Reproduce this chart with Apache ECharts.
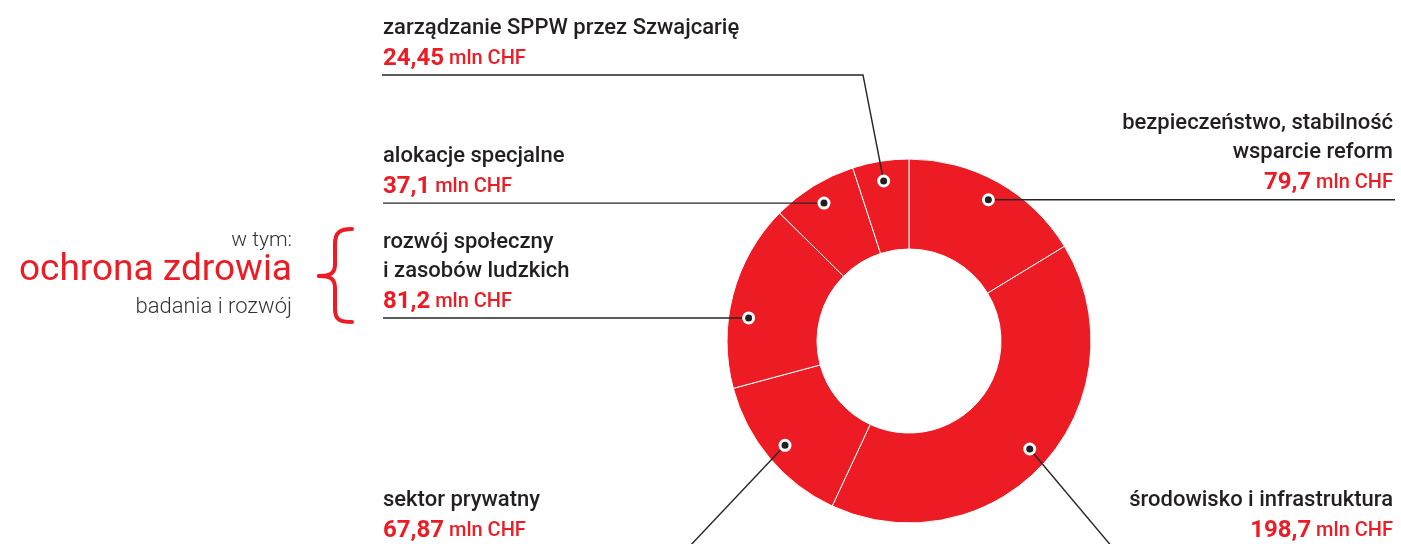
<!DOCTYPE html>
<html>
<head>
<meta charset="utf-8">
<script src="https://cdn.jsdelivr.net/npm/echarts@6/dist/echarts.min.js"></script>
<style>
  html, body { margin: 0; padding: 0; background: #fff; }
  #ChartDom { width: 1401px; height: 544px; }
</style>
</head>
<body>
<div id="ChartDom"></div>
<script>
// slices, clockwise from 12 o'clock
const categories = [
  "bezpieczeństwo, stabilność\nwsparcie reform",
  "środowisko i infrastruktura",
  "sektor prywatny",
  "rozwój społeczny\ni zasobów ludzkich",
  "alokacje specjalne",
  "zarządzanie SPPW przez Szwajcarię",
]
const values = [79.7, 198.7, 67.87, 81.2, 37.1, 24.45]
const unit = "mln CHF"
const sideNote = ["w tym:", "ochrona zdrowia", "badania i rozwój"]

const RED = "#ED1C24"
const INK = "#231F20"
const FONT = "Roboto"
const CX = 909, CY = 341, R_IN = 92, R_OUT = 182, DOT_R = 162

// where each label sits and how its leader runs (same order as categories)
const labelPos = [
  { x: 1393, y: 199, align: "right", va: "bottom", to: [[1395, "dot"]] },
  { x: 1393, y: 486, align: "right", va: "top", to: [[1113, 548]] },
  { x: 383, y: 486, align: "left", va: "top", to: [[688, 548]] },
  { x: 383, y: 318, align: "left", va: "bottom", to: [[383, "dot"]], shift: -9 },
  { x: 383, y: 203, align: "left", va: "bottom", to: [[383, "dot"]] },
  { x: 383, y: 75, align: "left", va: "bottom", to: [[863, 75], [382, 75]] },
]

const total = values.reduce((a, b) => a + b, 0)
let acc = 0
const dotData = values.map((v, i) => {
  const mid = acc + v / 2 + (labelPos[i].shift || 0)
  acc += v
  return [DOT_R, mid]
})

function fmt(v) {
  return String(v).replace(".", ",")
}

const chartDom = document.getElementById("ChartDom")
const myChart = echarts.init(chartDom)

let option = {
  animation: false,
  polar: {
    center: [CX, CY],
    radius: R_OUT,
  },
  angleAxis: {
    type: "value",
    min: 0,
    max: total,
    startAngle: 90,
    clockwise: true,
    show: false,
  },
  radiusAxis: {
    type: "value",
    min: 0,
    max: R_OUT,
    show: false,
  },
  series: [
    {
      type: "pie",
      center: [CX, CY],
      radius: [R_IN, R_OUT],
      startAngle: 90,
      clockwise: true,
      silent: true,
      z: 2,
      label: { show: false },
      labelLine: { show: false },
      itemStyle: {
        color: RED,
        borderColor: "#ffffff",
        borderWidth: 1,
      },
      data: categories.map((n, i) => ({ name: n, value: values[i] })),
    },
    {
      type: "scatter",
      coordinateSystem: "polar",
      silent: true,
      z: 10,
      symbol: "circle",
      symbolSize: 10,
      itemStyle: {
        color: INK,
        borderColor: "#ffffff",
        borderWidth: 3,
        opacity: 1,
      },
      data: dotData,
    },
  ],
}
myChart.setOption(option)

// leaders and labels, anchored to the dots
const graphics = []
dotData.forEach((d, i) => {
  const p = myChart.convertToPixel({ seriesIndex: 1 }, d)
  const lp = labelPos[i]
  const pts = [p].concat(lp.to.map((q) => [q[0], q[1] === "dot" ? p[1] : q[1]]))
  graphics.push({
    type: "polyline",
    z: 5,
    silent: true,
    shape: { points: pts },
    style: { stroke: "#262626", lineWidth: 1.4, fill: null },
  })
  const nameLines = categories[i].split("\n").map((s) => "{n|" + s + "}")
  graphics.push({
    type: "text",
    z: 5,
    silent: true,
    x: lp.x,
    y: lp.y,
    style: {
      text: nameLines.join("\n") + "\n{v|" + fmt(values[i]) + "}{u| " + unit + "}",
      align: lp.align,
      verticalAlign: lp.va,
      rich: {
        n: { fontFamily: FONT, fontSize: 22, fontWeight: 500, fill: INK, lineHeight: 29, align: lp.align },
        v: { fontFamily: FONT, fontSize: 24, fontWeight: 700, fill: RED, lineHeight: 32, align: lp.align },
        u: { fontFamily: FONT, fontSize: 20, fontWeight: 500, fill: RED, lineHeight: 32, align: lp.align },
      },
    },
  })
})

// side note with brace
const brace = { stroke: RED, lineWidth: 4, fill: null, lineCap: "round" }
graphics.push(
  {
    type: "text", silent: true, x: 292, y: 241,
    style: { text: sideNote[0], align: "right", verticalAlign: "middle", fontFamily: FONT, fontSize: 21, fontWeight: 300, fill: "#333333" },
  },
  {
    type: "text", silent: true, x: 292, y: 271,
    style: { text: sideNote[1], align: "right", verticalAlign: "middle", fontFamily: FONT, fontSize: 37, fontWeight: 400, fill: RED },
  },
  {
    type: "text", silent: true, x: 292, y: 307,
    style: { text: sideNote[2], align: "right", verticalAlign: "middle", fontFamily: FONT, fontSize: 22, fontWeight: 300, fill: "#333333" },
  },
  { type: "bezierCurve", silent: true, shape: { x1: 352, y1: 229, cpx1: 340, cpy1: 229, cpx2: 335, cpy2: 232, x2: 335, y2: 244 }, style: brace },
  { type: "line", silent: true, shape: { x1: 335, y1: 244, x2: 335, y2: 264 }, style: brace },
  { type: "bezierCurve", silent: true, shape: { x1: 335, y1: 264, cpx1: 335, cpy1: 273, cpx2: 331, cpy2: 276, x2: 319, y2: 276 }, style: brace },
  { type: "bezierCurve", silent: true, shape: { x1: 319, y1: 276, cpx1: 331, cpy1: 276, cpx2: 335, cpy2: 279, x2: 335, y2: 288 }, style: brace },
  { type: "line", silent: true, shape: { x1: 335, y1: 288, x2: 335, y2: 309 }, style: brace },
  { type: "bezierCurve", silent: true, shape: { x1: 335, y1: 309, cpx1: 335, cpy1: 320, cpx2: 340, cpy2: 322, x2: 352, y2: 322 }, style: brace }
)

myChart.setOption({ graphic: graphics })

window.addEventListener(
  "resize",
  () => {
    myChart.resize()
  },
  { passive: true }
)
</script>
</body>
</html>
